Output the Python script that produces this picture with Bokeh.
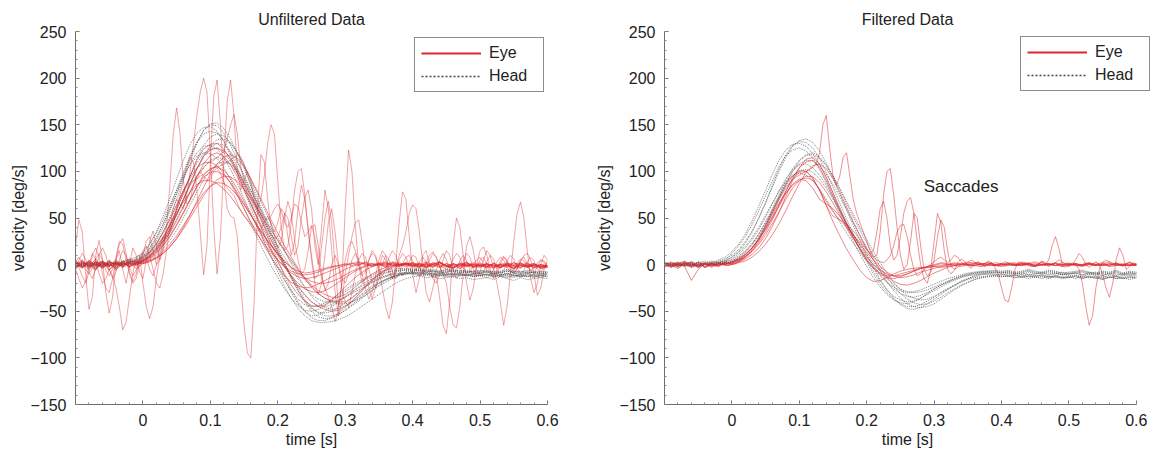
import numpy as np
from bokeh.plotting import figure
from bokeh.layouts import row
from bokeh.models import Range1d, FixedTicker, CustomJSTickFormatter, Legend, LegendItem, Label
from bokeh.embed import file_html
from bokeh.resources import INLINE

# ---------------- sampling grids (s) ----------------
t_coarse = np.round(np.arange(71) * 0.01 - 0.1, 3)     # -0.1 .. 0.6 step 0.01
t_fine = np.round(np.arange(141) * 0.005 - 0.1, 4)     # -0.1 .. 0.6 step 0.005

x_ticks = [0, 0.1, 0.2, 0.3, 0.4, 0.5, 0.6]
y_ticks = [-150, -100, -50, 0, 50, 100, 150, 200, 250]
x_minor = [round(-0.1 + 0.02 * i, 2) for i in range(36)]
y_minor = list(range(-150, 251, 10))

titles = ["Unfiltered Data", "Filtered Data"]
legend_labels = ["Eye", "Head"]
annotation_text = "Saccades"
annotation_pos = (0.34, 84)

# ---------------- UNFILTERED: head velocity traces (t_coarse) ----------------
LH1 = [3,-2,1,-4,2,0,-3,2,4,3, 8,15,26,40,57,76,96,115,131,144, 150,149,141,128,112,94,76,58,40,22,
       5,-12,-27,-40,-50,-57,-60,-60,-57,-52, -46,-40,-34,-28,-23,-19,-16,-13,-11,-10,
       -9,-11,-10,-12,-11,-13,-12,-10,-12,-11, -12,-10,-13,-11,-12,-14,-11,-13,-12,-14, -12]
LH2 = [-2,1,3,-1,-3,2,1,-2,3,5, 9,17,29,44,61,80,99,117,131,140, 143,141,133,120,104,86,68,50,32,15,
       -1,-16,-30,-42,-50,-55,-54,-50,-45,-40, -35,-30,-25,-21,-17,-14,-12,-10,-9,-9,
       -8,-10,-9,-11,-10,-9,-11,-10,-12,-10, -9,-11,-10,-12,-9,-11,-13,-10,-11,-12, -10]
LH3 = [1,3,-2,0,4,-1,2,0,3,2, 5,10,18,28,40,54,70,87,103,117, 128,134,135,130,120,107,92,76,60,44,
       29,15,1,-12,-24,-34,-41,-46,-48,-47, -44,-40,-35,-30,-25,-20,-16,-13,-10,-8,
       -7,-6,-8,-7,-9,-8,-7,-9,-8,-10, -9,-8,-10,-9,-7,-9,-11,-9,-8,-10, -9]
LH4 = [-3,0,2,-2,1,3,-1,1,2,4, 7,13,22,34,48,63,79,95,109,119, 124,125,120,111,99,85,70,55,40,26,
       12,-1,-13,-24,-33,-40,-44,-45,-43,-39, -34,-29,-24,-19,-15,-12,-9,-7,-6,-5,
       -6,-5,-7,-6,-8,-7,-6,-8,-7,-9, -8,-7,-9,-8,-10,-8,-9,-7,-9,-8, -8]
LH5 = [2,-1,-3,1,0,-2,2,1,0,3, 5,9,16,25,36,49,63,78,92,104, 112,115,113,107,98,87,74,60,46,33,
       20,8,-4,-15,-24,-32,-37,-40,-40,-38, -35,-31,-27,-23,-19,-16,-13,-11,-10,-9,
       -10,-9,-11,-10,-12,-11,-10,-12,-11,-13, -12,-11,-13,-12,-14,-12,-13,-11,-13,-12, -13]
LH6 = [0,2,-1,3,1,-2,0,3,5,6, 12,22,35,52,71,92,112,129,141,147, 148,143,132,117,99,80,61,42,24,8,
       -8,-23,-36,-47,-55,-60,-62,-62,-61,-59, -56,-52,-47,-42,-37,-32,-27,-22,-18,-15,
       -13,-12,-14,-13,-15,-14,-13,-15,-14,-16, -15,-14,-16,-13,-15,-17,-14,-16,-15,-14, -15]
LH7 = [-1,-3,0,2,-2,1,3,0,1,2, 4,8,15,25,38,53,69,86,102,116, 126,130,128,121,110,96,80,63,46,30,
       14,-1,-15,-28,-39,-47,-51,-52,-50,-46, -41,-35,-29,-24,-19,-15,-12,-9,-7,-6,
       -5,-7,-6,-8,-7,-5,-7,-6,-8,-7, -6,-8,-7,-9,-6,-8,-7,-9,-8,-7, -8]
LH8 = [1,-2,2,0,-1,3,1,-1,2,1, 4,9,17,28,42,58,76,95,113,128, 137,140,138,131,120,106,89,71,53,35,
       18,2,-14,-28,-40,-50,-56,-58,-57,-54, -49,-43,-37,-31,-25,-20,-16,-13,-11,-10,
       -10,-12,-11,-13,-12,-11,-13,-12,-11,-13, -12,-14,-11,-13,-12,-10,-13,-12,-14,-11, -13]
LH9 = [-2,1,-1,2,3,0,2,4,6,8, 13,22,34,48,64,80,95,107,116,120, 119,114,104,91,76,60,44,28,13,-1,
       -14,-26,-36,-44,-49,-50,-48,-44,-39,-34, -29,-24,-20,-16,-13,-10,-8,-7,-6,-6,
       -7,-6,-8,-7,-9,-8,-7,-9,-8,-7, -9,-8,-10,-8,-7,-9,-10,-8,-9,-10, -9]
LH10 = [2,0,-2,1,-1,2,0,-1,1,0, 2,5,10,17,26,37,50,64,78,91, 101,108,110,108,101,91,79,66,52,39,
        26,14,3,-7,-16,-24,-31,-36,-40,-42, -42,-40,-37,-33,-28,-23,-19,-15,-12,-10,
        -9,-8,-10,-9,-11,-10,-9,-11,-10,-12, -11,-10,-12,-11,-10,-12,-11,-13,-10,-12, -11]
LH11 = [-1,2,0,-2,1,-1,2,0,3,4, 7,13,22,35,51,70,91,112,130,144, 151,152,146,135,120,103,85,67,49,32,
        16,1,-13,-26,-37,-46,-52,-55,-55,-53, -49,-44,-39,-33,-27,-22,-17,-14,-11,-9,
        -8,-9,-8,-10,-9,-11,-10,-9,-11,-10, -10,-12,-9,-11,-10,-12,-11,-9,-12,-10, -11]
LH12 = [1,-1,3,0,-2,2,1,3,2,5, 10,18,29,43,59,76,93,108,120,127, 128,124,115,102,87,71,55,39,24,10,
        -4,-17,-28,-37,-43,-45,-44,-41,-37,-32, -27,-22,-18,-14,-11,-8,-6,-5,-4,-4,
        -5,-4,-6,-5,-7,-6,-5,-7,-6,-8, -7,-6,-8,-7,-5,-7,-8,-6,-7,-9, -8]

# ---------------- UNFILTERED: eye velocity traces (t_coarse) ----------------
LE1 = [-5,3,-2,6,-4,1,-6,4,-3,2, 4,8,14,23,34,47,62,78,94,108, 117,120,116,107,94,80,65,50,36,22,
       10,-2,-12,-20,-26,-29,-30,-28,-24,-19, -14,-9,-5,-2,0,1,-1,2,-2,1,
       -3,0,-4,2,-1,-5,1,-2,3,-3, 0,-4,2,-3,1,-5,-1,2,-4,0, -2]
LE2 = [2,-4,5,-1,3,-6,2,-2,4,0, 3,6,12,20,30,42,55,69,83,94, 99,100,96,88,77,65,53,41,30,20,
       11,3,-3,-7,-9,-8,-6,-4,-2,-1, 0,2,-1,3,-2,1,-3,2,0,-2,
       1,-3,2,-1,3,-2,0,-4,1,-1, 2,-2,0,-3,1,-1,-4,1,-2,0, -1]
LE3 = [-3,1,-5,3,0,-2,5,-1,2,-4, 1,4,8,14,22,31,42,54,66,77, 84,88,87,82,74,64,53,42,31,21,
       12,4,-3,-9,-14,-18,-20,-20,-18,-15, -11,-7,-4,-1,1,0,-2,1,-1,2,
       0,-2,1,-3,2,-1,-3,0,2,-2, -1,1,-3,0,-2,2,-1,-3,0,-2, -3]
LE4 = [4,-2,1,-5,3,-1,2,-3,5,1, 5,10,18,29,43,59,77,95,112,124, 129,130,124,113,98,82,65,48,32,17,
       3,-10,-22,-32,-39,-44,-45,-43,-38,-31, -24,-17,-11,-6,-2,0,1,-1,2,0,
       -2,1,-3,0,2,-2,-4,1,-1,-3, 1,-2,-4,0,-1,-3,2,-2,-1,-4, -2]
LE5 = [0,5,-3,2,-4,4,-1,3,-2,1, 2,4,7,12,19,28,38,50,62,74, 84,91,95,94,89,81,71,60,48,37,
       26,15,5,-5,-14,-22,-28,-32,-35,-35, -32,-27,-21,-15,-10,-6,-3,-1,0,1,
       -1,2,-2,0,-3,1,-1,-4,0,-2, -3,0,-1,-4,1,-2,0,-3,-1,-4, -3]
LE6 = [-2,4,-1,-6,3,0,-3,2,6,3, 8,14,23,35,49,64,79,93,104,109, 110,106,98,87,74,60,46,33,20,8,
       -3,-12,-19,-23,-25,-24,-21,-17,-13,-9, -5,-2,0,2,1,-1,2,0,-2,1,
       -1,-3,1,-2,2,-1,-4,0,-2,1, -2,0,-3,1,-1,-4,0,-2,1,-3, -2]
LE7 = [1,-3,3,-1,4,-5,0,2,-2,3, 1,3,7,12,19,28,40,53,68,83, 97,108,115,118,114,105,92,78,63,48,
       34,20,8,-4,-15,-24,-31,-36,-39,-40, -40,-36,-30,-23,-16,-10,-5,-2,0,1,
       2,-1,3,0,-2,1,-3,2,-1,0, -2,1,-1,-3,0,2,-2,-1,1,-3, -1]
LE8 = [3,-1,2,-4,1,-2,4,-3,1,-1, 3,7,13,21,31,43,56,70,84,96, 103,105,101,93,81,68,54,40,27,15,
       5,-3,-9,-13,-15,-14,-12,-9,-6,-3, -1,1,3,1,-1,2,0,3,1,-1,
       2,0,-2,1,3,-1,1,-2,0,2, -1,1,-2,0,2,-1,-3,0,1,-2, -1]
LE9 = [-4,2,-1,3,-2,5,-3,1,-1,2, 4,9,16,26,38,53,70,87,103,116, 123,125,122,114,102,88,73,57,42,27,
       13,0,-12,-23,-32,-40,-45,-48,-50,-49, -45,-39,-32,-24,-17,-11,-6,-3,-1,0,
       1,-2,0,-3,2,-1,-4,1,-2,0, -1,-3,1,-2,0,-4,1,-1,-3,0, -2]
LE10 = [2,-3,4,0,-2,3,-5,1,3,-1, 6,12,20,30,42,55,67,78,86,90, 90,87,81,73,63,53,42,32,22,13,
        5,-2,-7,-10,-11,-10,-8,-5,-3,-1, 1,-1,2,0,-2,1,3,-1,0,2,
        -1,1,-2,2,0,-3,1,-1,2,-2, 0,-2,1,-1,-3,0,2,-2,0,-1, -2]

# ---------------- UNFILTERED: noisy eye traces (t_fine) ----------------
NL1 = [20,48,35,-10,-48,-35,10,26,5,-30,-52,-35,5,15,-5,-20,0,18,10,-8,
       -15,5,25,36,20,5,15,40,85,140,168,140,90,65,70,85,95,100,95,90,
       92,100,104,98,88,82,78,74,66,58,52,48,45,40,36,38,46,52,45,30,
       18,25,50,68,55,25,5,-10,-5,15,40,43,20,-10,-28,-20,0,10,0,-15,
       -20,-10,5,12,5,-10,-25,-37,-30,-12,5,15,10,-5,-15,-8,5,12,8,-2,
       -10,-5,3,8,2,-8,-14,-6,5,12,5,-5,-12,-6,4,10,4,-6,-10,-3,
       5,8,0,-8,-12,-5,4,9,3,-6,-10,-4,5,8,1,-7,-9,-2,5,4,-2]
NL2 = [5,-3,-12,-20,-8,10,18,8,-10,-25,-30,-15,5,22,28,12,-8,-18,-10,5,
       15,20,10,-5,-20,-25,-10,15,40,60,70,65,60,75,100,130,160,185,200,185,
       120,40,-10,30,110,175,198,160,100,80,90,100,90,70,60,70,95,130,150,140,
       90,40,15,20,45,80,100,103,75,35,5,-20,-32,-20,10,45,60,35,0,-25,
       -40,-45,-30,-10,5,12,8,-5,-18,-25,-15,0,10,5,-8,-15,-10,0,8,10,
       4,-6,-12,-8,2,10,14,8,-2,-10,-12,-5,6,12,8,-3,-10,-8,0,5,
       8,2,-6,-10,-6,3,8,5,-3,-8,-6,2,6,4,-2,-6,-4,2,5,2,-3]
NL3 = [-5,-15,-25,-18,0,12,5,-10,-20,-15,-5,-12,-25,-45,-70,-62,-35,-10,8,10,
       -20,-45,-58,-45,-15,10,25,30,35,45,60,75,90,105,115,110,80,35,-11,20,
       110,180,198,150,90,60,52,50,30,-20,-65,-95,-100,-40,60,118,110,70,40,35,
       45,60,55,30,10,25,60,85,70,40,10,-15,-10,20,50,68,45,0,-45,-20,
       60,123,100,40,0,-20,-15,5,15,10,-5,-25,-45,-58,-40,0,45,78,70,30,
       -10,-30,-15,10,15,0,-15,-20,-10,5,15,10,-5,-15,-10,3,12,8,-5,-12,
       -8,5,15,10,-5,-20,-40,-65,-45,-10,25,55,67,50,15,-15,-30,-20,0,10,5]
NL4 = [3,8,2,-5,-10,-4,6,12,5,-6,-12,-5,8,25,22,5,-10,-20,-15,0,
       10,25,30,15,0,5,20,35,45,50,55,62,70,78,85,90,95,100,104,108,
       110,112,115,118,122,135,150,161,140,105,90,82,75,68,60,52,44,38,32,28,
       30,40,55,50,30,10,20,50,72,80,60,20,0,40,80,60,15,-30,-55,-40,
       -10,10,30,45,48,25,-5,-25,-37,-25,-5,10,5,-10,-15,-5,10,20,35,55,
       64,60,35,0,-30,-40,-25,-10,-35,-65,-74,-40,20,50,40,10,-20,-38,-25,0,
       15,19,10,-5,-15,-10,0,8,5,-3,-8,-5,3,10,12,5,-10,-33,-25,-5,5]
NL5 = [-2,5,12,6,-8,-15,-5,10,18,10,-5,-15,-8,5,15,10,-3,-12,-6,5,
       12,8,-5,-12,0,18,30,28,35,48,60,72,80,85,88,90,92,95,97,100,
       102,104,105,106,108,110,112,115,118,116,108,96,85,74,64,56,50,48,52,60,
       65,58,45,40,50,65,62,45,30,35,42,30,5,-15,-25,-35,-45,-61,-50,-20,
       5,20,25,15,0,-12,-8,5,12,8,-5,-12,-5,8,15,10,-3,-12,-8,3,
       10,8,-3,-10,-5,5,12,8,-2,-10,-20,-45,-65,-68,-45,-10,20,30,15,-5,
       -12,-8,3,10,6,-5,-12,-6,4,10,6,-4,-10,-6,3,8,4,-5,-8,-3,2]

# ---------------- FILTERED: head velocity traces (t_coarse) ----------------
RH1 = [2,-3,1,4,-2,3,0,-1,4,6, 10,16,25,36,50,66,83,100,115,127, 133,135,131,122,109,93,76,59,42,26,
       11,-3,-16,-27,-36,-43,-47,-48,-46,-42, -37,-32,-27,-23,-19,-16,-14,-13,-12,-12,
       -13,-12,-14,-13,-12,-14,-13,-15,-12,-14, -13,-15,-12,-14,-13,-15,-14,-12,-15,-13, -14]
RH2 = [-1,2,-3,0,3,-2,1,4,2,5, 12,20,30,43,58,74,90,105,117,123, 125,122,114,102,88,72,56,40,25,11,
       -2,-14,-24,-32,-38,-41,-42,-40,-36,-31, -26,-22,-18,-15,-12,-10,-9,-8,-8,-9,
       -8,-10,-9,-11,-8,-10,-9,-11,-10,-8, -10,-9,-11,-8,-10,-12,-9,-10,-11,-9, -10]
RH3 = [1,-2,2,-1,0,3,-3,1,0,2, 4,8,14,22,33,46,60,75,90,103, 112,117,118,114,106,95,82,68,54,40,
       27,14,2,-9,-19,-27,-33,-36,-38,-37, -34,-30,-26,-22,-18,-15,-12,-10,-9,-8,
       -9,-8,-10,-9,-11,-10,-8,-10,-9,-11, -10,-9,-11,-10,-8,-11,-10,-12,-9,-11, -10]
RH4 = [0,3,-2,1,-3,2,4,1,5,8, 14,22,33,47,63,80,97,112,123,129, 130,127,119,107,93,77,61,45,30,16,
       3,-10,-21,-30,-37,-42,-45,-45,-43,-39, -35,-30,-26,-22,-18,-15,-13,-11,-10,-10,
       -11,-10,-12,-11,-13,-12,-11,-13,-12,-14, -13,-12,-14,-13,-15,-12,-14,-13,-15,-14, -13]
RH5 = [-2,1,-1,3,0,-3,2,0,1,3, 6,11,18,27,38,51,65,79,92,102, 107,108,104,96,85,72,58,45,32,20,
       9,-1,-11,-19,-26,-31,-34,-35,-33,-30, -26,-22,-19,-16,-13,-11,-9,-8,-7,-7,
       -8,-7,-9,-8,-6,-8,-9,-7,-8,-10, -9,-8,-7,-9,-10,-8,-9,-7,-10,-8, -9]
RH6 = [3,0,-2,2,-1,1,-3,0,2,1, 3,6,11,18,28,40,54,70,86,100, 111,118,120,116,107,95,81,66,51,37,
       23,10,-2,-13,-23,-31,-37,-41,-43,-42, -39,-35,-30,-26,-22,-19,-16,-14,-13,-12,
       -12,-13,-11,-14,-12,-13,-15,-12,-14,-13, -14,-12,-15,-13,-14,-16,-13,-15,-14,-16, -14]
RH7 = [1,-1,2,-2,0,2,1,3,2,4, 8,13,20,29,40,53,66,79,89,96, 98,96,90,81,70,58,46,34,23,13,
       4,-4,-12,-19,-24,-28,-30,-29,-27,-24, -21,-18,-15,-13,-11,-9,-8,-7,-7,-6,
       -7,-6,-8,-7,-5,-7,-8,-6,-7,-9, -8,-7,-6,-8,-9,-7,-8,-6,-9,-7, -8]
RH8 = [-2,2,0,-1,3,1,-2,2,3,4, 8,14,23,35,50,67,85,103,118,128, 132,131,125,114,99,83,66,49,33,18,
       5,-7,-18,-27,-34,-38,-40,-39,-36,-32, -28,-24,-20,-17,-14,-12,-11,-10,-10,-11,
       -10,-12,-11,-13,-10,-12,-11,-13,-12,-10, -12,-11,-13,-10,-12,-14,-11,-13,-12,-11, -12]
RH9 = [0,-3,1,-1,2,-2,0,1,-1,2, 3,7,13,21,31,43,57,72,87,100, 108,112,111,106,97,86,73,59,45,31,
       18,5,-7,-18,-28,-36,-42,-45,-46,-45, -42,-37,-32,-27,-23,-19,-16,-14,-13,-12,
       -13,-12,-14,-13,-15,-13,-12,-14,-13,-15, -14,-13,-15,-12,-14,-16,-13,-15,-14,-12, -15]
RH10 = [2,0,-1,1,-2,0,2,-1,1,3, 5,9,15,23,33,45,58,71,84,95, 101,102,99,92,82,70,57,44,32,21,
        11,2,-7,-15,-21,-26,-29,-30,-29,-27, -24,-21,-18,-15,-13,-11,-10,-9,-8,-8,
        -9,-8,-10,-9,-7,-9,-10,-8,-9,-11, -10,-9,-8,-10,-11,-9,-10,-8,-11,-9, -10]

# ---------------- FILTERED: eye velocity traces (t_coarse) ----------------
RE1 = [0,-2,3,-1,2,-3,1,0,-2,2, 1,3,6,11,18,28,41,56,73,90, 104,113,115,108,94,77,60,44,30,17,
       6,-3,-9,-12,-12,-10,-8,-6,-4,-3, -2,-1,0,1,0,-1,1,0,-1,0,
       -1,1,0,-1,1,-1,0,1,-1,0, 1,-1,0,1,-1,0,-1,1,0,-1, 0]
RE2 = [2,-1,-4,1,3,-2,0,2,-1,1, 3,6,11,18,27,38,51,65,79,92, 99,100,93,80,63,46,31,17,5,-6,
       -14,-18,-17,-14,-10,-7,-5,-4,-3,-3, -2,-3,-2,-1,-2,0,-1,-2,0,-1,
       -2,0,-1,1,-1,-2,0,-1,1,-2, 0,-1,-2,0,-1,1,-2,-1,0,-1, -1]
RE3 = [-3,1,2,-2,-17,-5,1,-1,2,0, 3,6,11,18,27,38,50,63,76,86, 92,90,82,70,65,60,52,42,32,22,
       13,5,-2,-8,-12,-14,-13,-11,-8,-6, -4,-2,-1,0,1,0,-1,1,0,-1,
       0,1,-1,0,2,-1,0,1,-1,0, 1,0,-1,1,0,-1,1,0,-1,0, 0]
RE4 = [1,-2,0,3,-1,2,-3,0,1,-1, 0,2,4,8,14,22,32,44,58,73, 87,99,106,108,103,92,78,62,46,31,
       17,5,-5,-13,-18,-21,-22,-20,-17,-13, -9,-6,-3,-1,0,1,2,1,0,2,
       1,0,2,-1,1,3,0,1,-1,2, 0,1,-1,2,0,1,3,0,1,-1, 1]
RE5 = [0,2,-1,1,-3,0,2,-2,0,1, 2,4,8,14,22,32,44,57,70,82, 90,95,94,88,78,66,53,40,28,17,
       8,0,-6,-10,-12,-12,-10,-7,-4,-2, -1,1,0,2,1,0,-1,1,2,0,
       1,-1,0,2,0,1,-1,0,1,-2, 0,1,-1,0,2,-1,0,1,-1,0, -1]
RE6 = [1,0,-2,2,0,-1,1,-3,2,0, 2,5,9,15,24,35,48,63,78,93, 104,110,112,104,90,74,58,43,29,16,
       5,-4,-10,-14,-15,-13,-10,-7,-4,-2, 0,2,1,-1,0,3,1,0,2,-1,
       0,2,-1,1,0,-2,1,0,2,0, -1,1,0,2,-1,0,1,-1,0,2, 0]

# ---------------- FILTERED: eye traces with saccades (t_fine) ----------------
RS1 = [1,-2,0,2,-1,3,0,-2,1,0,-3,2,0,-1,2,-2,1,0,3,1,
       2,4,5,7,10,14,18,23,29,35,42,49,56,63,70,76,82,87,91,94,
       96,98,100,102,104,108,120,150,160,125,95,85,95,115,120,95,70,55,45,35,
       25,15,8,10,35,75,100,103,75,40,10,-5,0,25,55,50,20,-5,-12,-8,
       5,30,48,40,15,-2,-5,-3,0,2,0,-2,1,3,0,-2,1,2,-1,0,
       1,-2,0,2,1,-1,0,2,1,-1,0,1,3,0,-2,1,2,0,-1,1,
       2,0,1,-1,0,2,1,-1,0,1,3,0,-2,1,2,0,-1,1,2,0,1]
RS2 = [-1,2,0,-2,1,0,-1,2,1,-2,0,1,-3,0,2,-1,1,3,0,-1,
       1,2,4,6,8,11,15,20,26,33,40,47,54,60,66,72,77,81,85,88,
       90,92,93,92,90,86,80,72,64,57,52,50,48,46,43,40,36,32,27,22,
       16,12,15,35,60,68,50,20,5,10,30,55,68,72,55,25,0,-15,-20,-5,
       25,55,45,15,-5,-10,-6,2,6,4,-1,-4,0,3,1,-2,0,2,-3,-10,
       -25,-38,-40,-25,-5,3,1,-1,2,0,-2,1,3,0,5,20,30,18,0,-3,
       -1,2,0,-5,-20,-45,-65,-55,-25,-5,2,5,3,-1,2,0,-2,1,3,1,0]
RS3 = [0,1,-2,2,0,-1,3,0,-2,1,-1,0,2,-1,1,0,-2,1,2,0,
       0,1,3,5,8,12,17,22,28,35,42,50,58,66,73,80,86,91,95,98,
       100,101,100,97,92,86,80,74,68,62,57,52,48,44,40,36,32,28,24,20,
       16,12,8,5,3,2,5,10,20,35,42,43,30,10,-5,-12,-10,-5,-2,0,
       3,6,8,5,2,5,10,8,3,0,2,5,3,0,-2,1,4,2,0,-1,
       1,3,2,0,-1,1,3,2,0,-2,-1,1,4,2,0,-1,2,5,3,0,
       -2,0,5,12,8,0,-3,0,3,0,-10,-25,-35,-20,5,18,10,-5,-2,2,0]

left_head = [LH1, LH2, LH3, LH4, LH5, LH6, LH7, LH8, LH9, LH10, LH11, LH12]
left_eye = [LE1, LE2, LE3, LE4, LE5, LE6, LE7, LE8, LE9, LE10]
left_eye_noisy = [NL1, NL2, NL3, NL4, NL5]
right_head = [RH1, RH2, RH3, RH4, RH5, RH6, RH7, RH8, RH9, RH10]
right_eye = [RE1, RE2, RE3, RE4, RE5, RE6]
right_eye_sacc = [RS1, RS2, RS3]

for name, group, tt in [("left_head", left_head, t_coarse), ("left_eye", left_eye, t_coarse),
                        ("left_eye_noisy", left_eye_noisy, t_fine), ("right_head", right_head, t_coarse),
                        ("right_eye", right_eye, t_coarse), ("right_eye_sacc", right_eye_sacc, t_fine)]:
    for k, tr in enumerate(group):
        if len(tr) != len(tt):
            raise ValueError(f"{name}[{k}] has {len(tr)} values, expected {len(tt)}")

# ---------------- styling ----------------
FONT = "Liberation Sans"
TXT = "#222222"
AX = "#6e6e6e"
EYE = "#dd262c"
HEAD = "#505050"


def make_fig(title, width, height, x_end, bl, br, bt, bb, title_standoff, ya_standoff):
    p = figure(width=width, height=height, x_range=Range1d(-0.1, x_end), y_range=Range1d(-150, 250),
               output_backend="svg", toolbar_location=None, title=title,
               min_border_left=bl, min_border_right=br, min_border_top=bt, min_border_bottom=bb)
    p.title.align = "center"
    p.title.text_font = FONT
    p.title.text_font_size = "16px"
    p.title.text_font_style = "normal"
    p.title.text_color = TXT
    p.title.standoff = title_standoff
    p.grid.visible = False
    p.outline_line_color = None
    p.xaxis.ticker = FixedTicker(ticks=x_ticks, minor_ticks=x_minor)
    p.yaxis.ticker = FixedTicker(ticks=y_ticks, minor_ticks=y_minor)
    p.xaxis.bounds = (-0.1, 0.6)
    p.xaxis.formatter = CustomJSTickFormatter(code="return tick == 0 ? '0' : tick.toFixed(1);")
    p.yaxis.formatter = CustomJSTickFormatter(code="return tick < 0 ? '\u2212' + (-tick) : '' + tick;")
    p.xaxis.axis_label = "time [s]"
    p.yaxis.axis_label = "velocity [deg/s]"
    for ax in (p.xaxis[0], p.yaxis[0]):
        ax.axis_line_color = AX
        ax.axis_line_width = 1
        ax.major_tick_line_color = AX
        ax.minor_tick_line_color = "#8c8c8c"
        ax.major_tick_in = 4
        ax.major_tick_out = 0
        ax.minor_tick_in = 2
        ax.minor_tick_out = 0
        ax.major_label_text_font = FONT
        ax.major_label_text_font_size = "16px"
        ax.major_label_text_color = TXT
        ax.axis_label_text_font = FONT
        ax.axis_label_text_font_size = "16px"
        ax.axis_label_text_font_style = "normal"
        ax.axis_label_text_color = TXT
    p.xaxis.major_label_standoff = 9
    p.xaxis.axis_label_standoff = 2
    p.yaxis.major_label_standoff = 9
    p.yaxis.axis_label_standoff = ya_standoff
    return p


def add_legend(p, loc, eye_data, head_data):
    # proxy renderers (hidden) that carry the legend styling
    le = p.line(t_coarse, eye_data, line_color=EYE, line_width=2, visible=False)
    lh = p.line(t_coarse, head_data, line_color="#444444", line_width=1.5, line_dash="2 2", visible=False)
    leg = Legend(items=[LegendItem(label=legend_labels[0], renderers=[le]),
                        LegendItem(label=legend_labels[1], renderers=[lh])],
                 location=loc, margin=0, padding=6, spacing=5,
                 glyph_width=60, glyph_height=16, label_height=16, label_width=48, label_standoff=8,
                 label_text_font=FONT, label_text_font_size="16px", label_text_color=TXT,
                 border_line_color="#1c1c1c", border_line_width=1.5,
                 background_fill_color="white", background_fill_alpha=1.0)
    p.add_layout(leg)


# ---------------- left panel ----------------
p1 = make_fig(titles[0], 592, 455, 0.6, 75, 45, 31, 51, 7, 0)
for tr in left_eye_noisy:
    p1.line(t_fine, tr, line_color=EYE, line_alpha=0.42, line_width=1)
for tr in left_head:
    p1.line(t_coarse, tr, line_color=HEAD, line_alpha=0.7, line_width=1, line_dash="1 1")
for tr in left_eye:
    p1.line(t_coarse, tr, line_color=EYE, line_alpha=0.55, line_width=1)
add_legend(p1, (339, 312), LE1, LH1)

# ---------------- right panel (frame extends a little past 0.6 so the legend can overhang) ----------------
p2 = make_fig(titles[1], 561, 455, 0.621, 72, 3, 31, 51, 7, 3)
for tr in right_eye_sacc:
    p2.line(t_fine, tr, line_color=EYE, line_alpha=0.5, line_width=1)
for tr in right_head:
    p2.line(t_coarse, tr, line_color=HEAD, line_alpha=0.7, line_width=1, line_dash="1 1")
for tr in right_eye:
    p2.line(t_coarse, tr, line_color=EYE, line_alpha=0.55, line_width=1)
p2.add_layout(Label(x=annotation_pos[0], y=annotation_pos[1], text=annotation_text,
                    text_align="center", text_baseline="middle", text_font=FONT,
                    text_font_size="17px", text_color=TXT))
add_legend(p2, (356, 313), RE1, RH1)

layout = row(p1, p2)
open("out.html", "w").write(file_html(layout, INLINE))
